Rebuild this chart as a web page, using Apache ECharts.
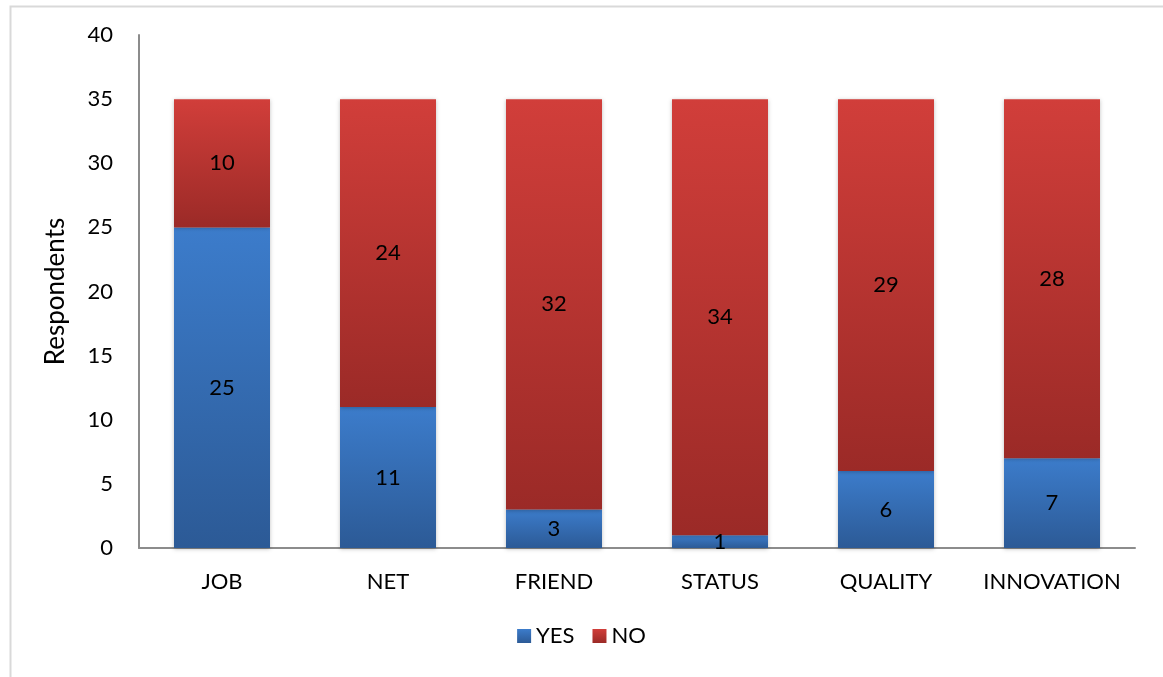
<!DOCTYPE html>
<html>
<head>
<meta charset="utf-8">
<script src="https://cdn.jsdelivr.net/npm/echarts@6/dist/echarts.min.js"></script>
<style>
  html, body { margin: 0; padding: 0; background: #fff; }
  #main { width: 1163px; height: 677px; }
</style>
</head>
<body>
<div id="main"></div>
<script>
// categories and values
var categories = ['JOB', 'NET', 'FRIEND', 'STATUS', 'QUALITY', 'INNOVATION'];
var yesValues = [25, 11, 3, 1, 6, 7];
var noValues = [10, 24, 32, 34, 29, 28];
var yTicks = { min: 0, max: 40, interval: 5 };

var myChart = echarts.init(document.getElementById('main'));

function grad(top, bottom) {
    return new echarts.graphic.LinearGradient(0, 0, 0, 1, [
        { offset: 0, color: top },
        { offset: 1, color: bottom }
    ]);
}

var font = 'Lato, "Open Sans", sans-serif';

var option = {
    backgroundColor: '#fff',
    animation: false,
    graphic: [{
        type: 'rect',
        shape: { x: 10.5, y: 6.5, width: 1170, height: 700 },
        style: { fill: 'none', stroke: '#d9d9d9', lineWidth: 2 },
        silent: true
    }],
    grid: { left: 139, right: 28, top: 35, bottom: 129 },
    legend: {
        bottom: 25,
        left: 'center',
        itemWidth: 14,
        itemHeight: 14,
        itemGap: 18,
        icon: 'rect',
        textStyle: { fontFamily: font, fontSize: 22, color: '#000' },
        data: ['YES', 'NO']
    },
    xAxis: {
        type: 'category',
        data: categories,
        axisLine: { lineStyle: { color: '#8c8c8c', width: 2 } },
        axisTick: { show: false },
        axisLabel: {
            interval: 0,
            hideOverlap: false,
            fontFamily: font,
            fontSize: 22,
            color: '#000',
            margin: 23
        }
    },
    yAxis: {
        type: 'value',
        min: yTicks.min,
        max: yTicks.max,
        interval: yTicks.interval,
        name: 'Respondents',
        nameLocation: 'middle',
        nameGap: 70,
        nameTextStyle: { fontFamily: font, fontSize: 26, color: '#000' },
        axisLine: { show: true, lineStyle: { color: '#8c8c8c', width: 2 } },
        axisTick: { show: false },
        splitLine: { show: false },
        axisLabel: { fontFamily: font, fontSize: 22, color: '#000', margin: 26 }
    },
    series: [
        {
            name: 'YES',
            type: 'bar',
            stack: 'total',
            barWidth: 96,
            data: yesValues,
            itemStyle: {
                color: grad('#3c7ccb', '#2c5a96'),
                shadowColor: 'rgba(0,0,0,0.25)',
                shadowBlur: 4,
                shadowOffsetY: 1
            },
            label: {
                show: true,
                position: 'inside',
                fontFamily: font,
                fontSize: 22,
                color: '#000'
            }
        },
        {
            name: 'NO',
            type: 'bar',
            stack: 'total',
            barWidth: 96,
            data: noValues,
            itemStyle: {
                color: grad('#d13e3a', '#9b2a27'),
                shadowColor: 'rgba(0,0,0,0.25)',
                shadowBlur: 4,
                shadowOffsetY: 1
            },
            label: {
                show: true,
                position: 'inside',
                fontFamily: font,
                fontSize: 22,
                color: '#000'
            }
        }
    ]
};

myChart.setOption(option);
</script>
</body>
</html>
